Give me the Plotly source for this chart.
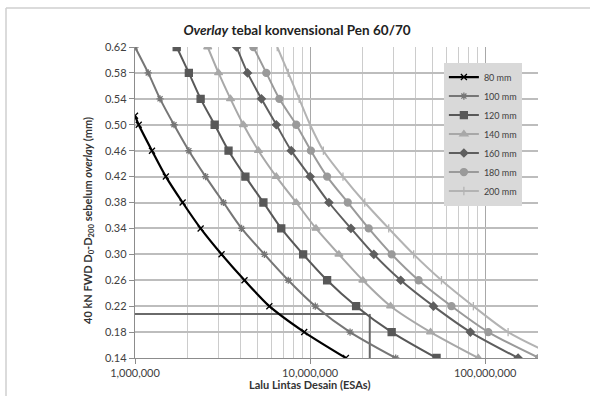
import plotly.graph_objects as go

# ---------------- data ----------------
y_levels = [0.62, 0.58, 0.54, 0.50, 0.46, 0.42, 0.38, 0.34, 0.30, 0.26, 0.22, 0.18, 0.14]

y_80 = [0.514, 0.50, 0.46, 0.42, 0.38, 0.34, 0.30, 0.26, 0.22, 0.18, 0.14]
x_80 = [1.00e6, 1.05e6, 1.25e6, 1.50e6, 1.87e6, 2.37e6, 3.12e6, 4.22e6, 5.85e6, 9.25e6, 1.60e7]

x_100 = [1.00e6, 1.19e6, 1.39e6, 1.67e6, 2.03e6, 2.53e6, 3.20e6, 4.06e6, 5.48e6, 7.50e6, 1.07e7, 1.69e7, 3.08e7]
x_120 = [1.73e6, 2.03e6, 2.37e6, 2.85e6, 3.42e6, 4.27e6, 5.41e6, 6.84e6, 9.12e6, 1.25e7, 1.83e7, 2.92e7, 5.27e7]
x_140 = [2.60e6, 3.00e6, 3.51e6, 4.16e6, 5.07e6, 6.41e6, 8.33e6, 1.08e7, 1.46e7, 2.00e7, 2.88e7, 4.87e7, 9.12e7]
x_160 = [3.80e6, 4.39e6, 5.27e6, 6.41e6, 7.80e6, 1.00e7, 1.28e7, 1.71e7, 2.31e7, 3.29e7, 5.06e7, 8.22e7, 1.54e8]
x_180 = [4.74e6, 5.62e6, 6.67e6, 8.33e6, 1.01e7, 1.25e7, 1.64e7, 2.16e7, 2.92e7, 4.16e7, 6.41e7, 1.04e8, 2.03e8]
x_200 = [6.49e6, 7.50e6, 8.66e6, 1.00e7, 1.19e7, 1.54e7, 2.05e7, 2.81e7, 3.90e7, 5.62e7, 8.55e7, 1.35e8, 2.67e8]

series_names = ["80 mm", "100 mm", "120 mm", "140 mm", "160 mm", "180 mm", "200 mm"]

# example reading lines
ref_h_x = [1.0e6, 2.11e7]
ref_h_y = [0.208, 0.208]
ref_v_x = [2.19e7, 2.19e7]
ref_v_y = [0.208, 0.14]

x_major = [1e6, 1e7, 1e8]
x_major_text = ["1,000,000", "10,000,000", "100,000,000"]
x_minor = [m * d for d in (1e6, 1e7) for m in range(2, 10)] + [2e8]

# ---------------- styles ----------------
styles = [
    dict(color="#000000", symbol="x-thin-open", size=6, lw=2.2),
    dict(color="#767676", symbol="asterisk-open", size=6, lw=2),
    dict(color="#585858", symbol="square", size=7, lw=2),
    dict(color="#a8a8a8", symbol="triangle-up", size=7, lw=2),
    dict(color="#5e5e5e", symbol="diamond", size=6, lw=2),
    dict(color="#9a9a9a", symbol="circle", size=7, lw=2),
    dict(color="#b3b3b3", symbol="line-ns-open", size=6, lw=2),
]

data = [(x_80, y_80), (x_100, y_levels), (x_120, y_levels), (x_140, y_levels),
        (x_160, y_levels), (x_180, y_levels), (x_200, y_levels)]

fig = go.Figure()

fig.add_trace(go.Scatter(x=ref_h_x, y=ref_h_y, mode="lines",
                         line=dict(color="#6a6a6a", width=2), showlegend=False,
                         hoverinfo="skip"))
fig.add_trace(go.Scatter(x=ref_v_x, y=ref_v_y, mode="lines",
                         line=dict(color="#6a6a6a", width=2), showlegend=False,
                         hoverinfo="skip"))

for name, (xs, ys), st in zip(series_names, data, styles):
    fig.add_trace(go.Scatter(
        x=xs, y=ys, name=name, mode="lines+markers",
        line=dict(color=st["color"], width=st["lw"], shape="spline", smoothing=0.8),
        marker=dict(symbol=st["symbol"], size=st["size"], color=st["color"],
                    line=dict(color=st["color"], width=1.3)),
    ))

font_family = "Lato, 'Open Sans', sans-serif"

# frame of the chart area, in paper units of the plot region
fx0, fx1 = (6 - 135) / 403, (600 - 135) / 403
fy0, fy1 = (358 - 410) / 311, (358 - 8) / 311

fig.update_layout(
    width=590, height=396,
    margin=dict(l=135, r=52, t=47, b=38),
    paper_bgcolor="white", plot_bgcolor="white",
    font=dict(family=font_family, size=11, color="#404040"),
    title=dict(text="<b><i>Overlay</i> tebal konvensional Pen 60/70</b>",
               x=297 / 590, xanchor="center", xref="container",
               y=1 - 30 / 396, yanchor="middle", yref="container",
               font=dict(family=font_family, size=13.5, color="#222222")),
    showlegend=True,
    legend=dict(x=0.96, xanchor="right", y=0.95, yanchor="top",
                bgcolor="#d9d9d9", borderwidth=0,
                font=dict(size=9, color="#404040"),
                itemwidth=30, tracegroupgap=0),
    xaxis=dict(type="log", range=[6, 8.30103],
               tickmode="array", tickvals=x_major, ticktext=x_major_text,
               showgrid=True, gridcolor="#a8a8a8", gridwidth=1.3,
               minor=dict(tickmode="array", tickvals=x_minor, showgrid=True,
                          gridcolor="#cccccc", gridwidth=1.2, ticks=""),
               showline=True, linecolor="#8c8c8c", linewidth=1.3,
               ticks="outside", ticklen=5, tickcolor="#8c8c8c",
               tickfont=dict(size=11, color="#404040"),
               zeroline=False),
    yaxis=dict(range=[0.14, 0.62], dtick=0.04, tick0=0.14, tickformat=".2f",
               showgrid=True, gridcolor="#bdbdbd", gridwidth=1.5,
               showline=True, linecolor="#8c8c8c", linewidth=1.3,
               ticks="outside", ticklen=5, tickcolor="#8c8c8c",
               tickfont=dict(size=11, color="#404040"),
               zeroline=False),
    annotations=[
        dict(text="<b>Lalu Lintas Desain (ESAs)</b>", xref="paper", yref="paper",
             x=(309 - 135) / 403, y=(358 - 384) / 311, xanchor="center", yanchor="middle",
             showarrow=False, font=dict(family=font_family, size=11, color="#333333")),
        dict(text="<b>40 kN FWD D<sub>0</sub>-D<sub>200</sub> sebelum <i>overlay</i> (mm)</b>",
             xref="paper", yref="paper",
             x=(88 - 135) / 403, y=(358 - 221) / 311, xanchor="center", yanchor="middle",
             textangle=-90, showarrow=False,
             font=dict(family=font_family, size=11, color="#333333")),
    ],
    shapes=[
        dict(type="line", xref="paper", yref="paper", x0=fx0, x1=fx1, y0=fy1, y1=fy1,
             line=dict(color="#cfcfcf", width=1.5), layer="above"),
        dict(type="line", xref="paper", yref="paper", x0=fx0, x1=fx0, y0=fy0, y1=fy1,
             line=dict(color="#cfcfcf", width=1.5), layer="above"),
    ],
)

fig.write_html("out.html", config={"displayModeBar": False},
               post_script="document.body.style.margin='0';document.body.style.overflow='hidden';")
